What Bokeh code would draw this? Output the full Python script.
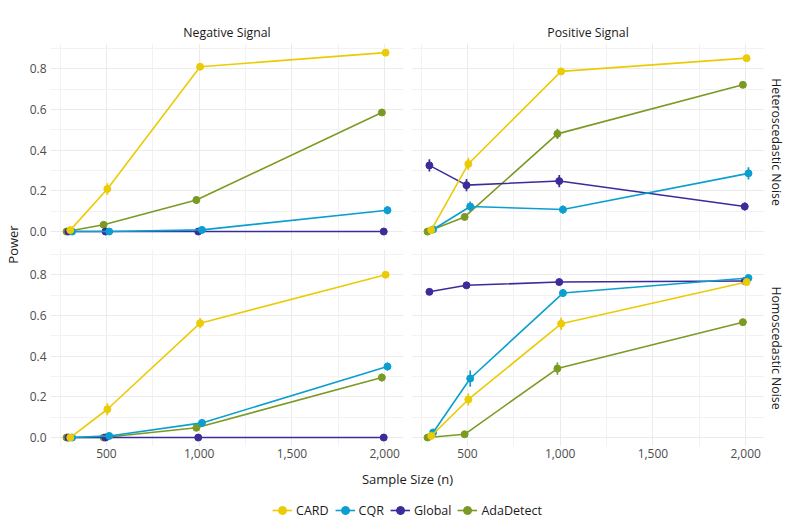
from math import pi
from bokeh.plotting import figure
from bokeh.models import (Range1d, LinearAxis, Grid, FixedTicker, NumeralTickFormatter,
                          ColumnDataSource, Label, Legend, LegendItem, Title)
from bokeh.layouts import row, column
from bokeh.embed import file_html
from bokeh.resources import INLINE

# ---------------- data ----------------
sample_sizes = [300, 500, 1000, 2000]
methods = ["CARD", "CQR", "Global", "AdaDetect"]
colors = {"CARD": "#EBCB05", "CQR": "#0B9FCF", "Global": "#3A2D9A", "AdaDetect": "#7B9A24"}
dodge = {"AdaDetect": -15, "Global": -5, "CARD": 5, "CQR": 15}

signal_labels = ["Negative Signal", "Positive Signal"]
noise_labels = ["Heteroscedastic Noise", "Homoscedastic Noise"]

x_ticks = [500, 1000, 1500, 2000]
x_minor = [250, 750, 1250, 1750]
y_ticks = [0.0, 0.2, 0.4, 0.6, 0.8]
y_minor = [0.1, 0.3, 0.5, 0.7, 0.9]

# Negative signal, heteroscedastic noise
neg_het_card = [0.007, 0.209, 0.810, 0.879]
neg_het_card_err = [0.005, 0.028, 0.010, 0.008]
neg_het_cqr = [0.000, 0.000, 0.008, 0.105]
neg_het_cqr_err = [0.002, 0.003, 0.005, 0.020]
neg_het_global = [0.000, 0.000, 0.000, 0.000]
neg_het_global_err = [0.002, 0.006, 0.002, 0.002]
neg_het_ada = [0.000, 0.033, 0.155, 0.585]
neg_het_ada_err = [0.002, 0.008, 0.020, 0.012]

# Positive signal, heteroscedastic noise
pos_het_card = [0.007, 0.332, 0.787, 0.852]
pos_het_card_err = [0.005, 0.030, 0.010, 0.008]
pos_het_cqr = [0.010, 0.123, 0.108, 0.286]
pos_het_cqr_err = [0.005, 0.025, 0.020, 0.030]
pos_het_global = [0.325, 0.228, 0.248, 0.123]
pos_het_global_err = [0.030, 0.030, 0.030, 0.020]
pos_het_ada = [0.000, 0.072, 0.480, 0.721]
pos_het_ada_err = [0.002, 0.015, 0.025, 0.008]

# Negative signal, homoscedastic noise
neg_hom_card = [0.000, 0.139, 0.562, 0.800]
neg_hom_card_err = [0.002, 0.030, 0.025, 0.008]
neg_hom_cqr = [0.000, 0.008, 0.072, 0.349]
neg_hom_cqr_err = [0.002, 0.005, 0.015, 0.020]
neg_hom_global = [0.000, 0.000, 0.000, 0.000]
neg_hom_global_err = [0.002, 0.002, 0.002, 0.002]
neg_hom_ada = [0.000, 0.000, 0.048, 0.295]
neg_hom_ada_err = [0.002, 0.002, 0.010, 0.020]

# Positive signal, homoscedastic noise
pos_hom_card = [0.008, 0.187, 0.559, 0.764]
pos_hom_card_err = [0.005, 0.030, 0.030, 0.010]
pos_hom_cqr = [0.025, 0.290, 0.710, 0.784]
pos_hom_cqr_err = [0.008, 0.040, 0.020, 0.008]
pos_hom_global = [0.716, 0.748, 0.764, 0.769]
pos_hom_global_err = [0.008, 0.008, 0.008, 0.008]
pos_hom_ada = [0.000, 0.016, 0.339, 0.567]
pos_hom_ada_err = [0.002, 0.005, 0.030, 0.012]

panels = {
    (0, 0): {"CARD": (neg_het_card, neg_het_card_err), "CQR": (neg_het_cqr, neg_het_cqr_err),
             "Global": (neg_het_global, neg_het_global_err), "AdaDetect": (neg_het_ada, neg_het_ada_err)},
    (0, 1): {"CARD": (pos_het_card, pos_het_card_err), "CQR": (pos_het_cqr, pos_het_cqr_err),
             "Global": (pos_het_global, pos_het_global_err), "AdaDetect": (pos_het_ada, pos_het_ada_err)},
    (1, 0): {"CARD": (neg_hom_card, neg_hom_card_err), "CQR": (neg_hom_cqr, neg_hom_cqr_err),
             "Global": (neg_hom_global, neg_hom_global_err), "AdaDetect": (neg_hom_ada, neg_hom_ada_err)},
    (1, 1): {"CARD": (pos_hom_card, pos_hom_card_err), "CQR": (pos_hom_cqr, pos_hom_cqr_err),
             "Global": (pos_hom_global, pos_hom_global_err), "AdaDetect": (pos_hom_ada, pos_hom_ada_err)},
}

# ---------------- style ----------------
FONT = "Open Sans"
TICK_SIZE = "12px"
STRIP_SIZE = "12.3px"
TITLE_SIZE = "13px"
LEGEND_SIZE = "12.5px"
GRID_COLOR = "#EBEBEB"
MINOR_COLOR = "#F2F2F2"
draw_order = ["AdaDetect", "Global", "CQR", "CARD"]

FRAME_W, FRAME_H = 353, 197
YLAB_W = 22
TOP_B, MID_B1, MID_B2, BOT_B = 43, 4, 5, 22
LEFT_B, GAP_L, GAP_R, RIGHT_B = 28, 4, 4, 22


def hide_grids(p):
    for g in p.grid:
        g.visible = False


def make_panel(r, c):
    borders = dict(
        min_border_left=LEFT_B if c == 0 else GAP_R,
        min_border_right=GAP_L if c == 0 else RIGHT_B,
        min_border_top=TOP_B if r == 0 else MID_B2,
        min_border_bottom=MID_B1 if r == 0 else BOT_B,
    )
    p = figure(frame_width=FRAME_W, frame_height=FRAME_H,
               x_range=Range1d(198.5, 2101.5), y_range=Range1d(-0.044, 0.924),
               x_axis_location=None, y_axis_location=None, title=None,
               toolbar_location=None, output_backend="svg", **borders)
    hide_grids(p)
    p.outline_line_color = None
    p.background_fill_color = "white"
    p.border_fill_color = "white"

    xt = FixedTicker(ticks=x_ticks, minor_ticks=x_minor)
    yt = FixedTicker(ticks=y_ticks, minor_ticks=y_minor)
    for dim, tk in ((0, xt), (1, yt)):
        g = Grid(dimension=dim, ticker=tk, grid_line_color=GRID_COLOR, grid_line_width=1,
                 minor_grid_line_color=MINOR_COLOR, minor_grid_line_width=1)
        p.add_layout(g)

    axis_style = dict(axis_line_color=None, major_tick_line_color=None,
                      minor_tick_line_color=None, major_tick_out=0, major_tick_in=0,
                      minor_tick_out=0, minor_tick_in=0,
                      major_label_text_font=FONT, major_label_text_font_size=TICK_SIZE,
                      major_label_text_color="#4D4D4D")
    if c == 0:
        ya = LinearAxis(ticker=yt, formatter=NumeralTickFormatter(format="0.0"),
                        major_label_standoff=4, **axis_style)
        p.add_layout(ya, "left")
    if r == 1:
        xa = LinearAxis(ticker=xt, formatter=NumeralTickFormatter(format="0,0"),
                        major_label_standoff=2, **axis_style)
        p.add_layout(xa, "below")
    if r == 0:
        p.add_layout(Title(text=signal_labels[c], align="center", text_font=FONT,
                           text_font_size=STRIP_SIZE, text_font_style="normal",
                           text_color="#1A1A1A", standoff=5), "above")
    if c == 1:
        p.add_layout(Title(text=noise_labels[r], align="center", text_font=FONT,
                           text_font_size=STRIP_SIZE, text_font_style="normal",
                           text_color="#1A1A1A", standoff=6), "right")

    data = panels[(r, c)]
    for m in draw_order:
        vals, errs = data[m]
        src = ColumnDataSource(dict(
            x=[n + dodge[m] for n in sample_sizes],
            y=vals,
            lo=[v - e for v, e in zip(vals, errs)],
            hi=[v + e for v, e in zip(vals, errs)],
        ))
        col = colors[m]
        p.line("x", "y", source=src, line_color=col, line_width=1.6)
        p.segment(x0="x", y0="lo", x1="x", y1="hi", source=src, line_color=col, line_width=1.7)
        p.scatter("x", "y", source=src, size=7, fill_color=col, line_color=col, marker="circle")
    return p


tl = make_panel(0, 0)
tr = make_panel(0, 1)
bl = make_panel(1, 0)
br = make_panel(1, 1)

grid_h = (TOP_B + FRAME_H + MID_B1) + (MID_B2 + FRAME_H + BOT_B)
total_w = YLAB_W + LEFT_B + FRAME_W + GAP_L + GAP_R + FRAME_W + RIGHT_B

# y-axis title column
ylab = figure(width=YLAB_W, height=grid_h, x_range=Range1d(0, YLAB_W), y_range=Range1d(0, grid_h),
              x_axis_location=None, y_axis_location=None, title=None,
              toolbar_location=None, output_backend="svg",
              min_border_left=0, min_border_right=0, min_border_top=0, min_border_bottom=0)
hide_grids(ylab)
ylab.outline_line_color = None
ylab.add_layout(Label(x=12, y=grid_h - (TOP_B + FRAME_H + 4), text="Power", angle=pi / 2,
                      text_align="center", text_baseline="middle", text_font=FONT,
                      text_font_size=TITLE_SIZE, text_color="#1A1A1A"))

# bottom: x-axis title + legend
BOT_H = 52
bottom = figure(width=total_w, height=BOT_H, x_range=Range1d(0, 1), y_range=Range1d(0, BOT_H),
                x_axis_location=None, y_axis_location=None, title=None,
                toolbar_location=None, output_backend="svg",
                min_border_left=YLAB_W + LEFT_B, min_border_right=RIGHT_B,
                min_border_top=0, min_border_bottom=0)
hide_grids(bottom)
bottom.outline_line_color = None
bottom.add_layout(Label(x=0.5, y=BOT_H - 10, text="Sample Size (n)", text_align="center",
                        text_baseline="middle", text_font=FONT, text_font_size=TITLE_SIZE,
                        text_color="#1A1A1A"))
dummy = ColumnDataSource(dict(x=[float("nan")], y=[float("nan")]))
items = []
for m in methods:
    col = colors[m]
    r1 = bottom.line("x", "y", source=dummy, line_color=col, line_width=1.6)
    r2 = bottom.scatter("x", "y", source=dummy, marker="cross", size=16, line_color=col, line_width=1.6)
    r3 = bottom.scatter("x", "y", source=dummy, marker="circle", size=8, fill_color=col, line_color=col)
    items.append(LegendItem(label=m, renderers=[r1, r2, r3]))
legend = Legend(items=items, orientation="horizontal", location="bottom_center",
                border_line_color=None, background_fill_alpha=0, padding=2, margin=0,
                spacing=6, glyph_width=20, glyph_height=20, label_height=20,
                label_standoff=4, label_text_font=FONT, label_text_font_size=LEGEND_SIZE,
                label_text_color="#1A1A1A")
bottom.add_layout(legend, "center")

layout = column(row(ylab, column(row(tl, tr), row(bl, br))), bottom)

open("out.html", "w").write(file_html(layout, INLINE))
